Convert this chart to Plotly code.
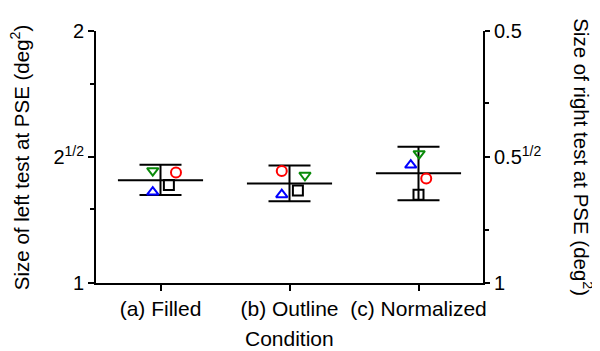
import plotly.graph_objects as go

conditions = ["(a) Filled", "(b) Outline", "(c) Normalized"]
cond_pos = [1, 2, 3]

mean_vals = [1.327, 1.315, 1.352]
err_upper = [1.384, 1.382, 1.455]
err_lower = [1.274, 1.252, 1.256]

red_circle = [1.355, 1.361, 1.333]
green_tri = [1.362, 1.345, 1.427]
blue_tri = [1.284, 1.275, 1.383]
black_sq = [1.309, 1.290, 1.275]

red_off = [0.12, -0.06, 0.06]
green_off = [-0.06, 0.12, 0.005]
blue_off = [-0.06, -0.06, -0.06]
sq_off = [0.065, 0.065, 0.0]

left_ticks = [1, 2 ** 0.5, 2]
left_ticktext = ["1", "2<sup>1/2</sup>", "2"]
left_minor = [1.227, 1.73]
right_ticks = [0.5, 0.5 ** 0.5, 1]
right_ticktext = ["0.5", "0.5<sup>1/2</sup>", "1"]
right_minor = [0.61, 0.865]

FONT = "Liberation Sans, Arial, sans-serif"
fig = go.Figure()

# mean lines
mx, my = [], []
for c, m in zip(cond_pos, mean_vals):
    mx += [c - 0.33, c + 0.33, None]
    my += [m, m, None]
fig.add_trace(go.Scatter(x=mx, y=my, mode="lines", line=dict(color="black", width=2),
                         showlegend=False, hoverinfo="skip"))

# error bars
fig.add_trace(go.Scatter(
    x=cond_pos, y=mean_vals, mode="markers", marker=dict(size=1, color="rgba(0,0,0,0)"),
    error_y=dict(type="data", symmetric=False,
                 array=[u - m for u, m in zip(err_upper, mean_vals)],
                 arrayminus=[m - l for m, l in zip(mean_vals, err_lower)],
                 color="black", thickness=2, width=21),
    showlegend=False, hoverinfo="skip"))

def add_markers(vals, offs, symbol, color):
    fig.add_trace(go.Scatter(
        x=[c + o for c, o in zip(cond_pos, offs)], y=vals, mode="markers",
        marker=dict(symbol=symbol, size=10, color=color,
                    line=dict(color=color, width=2)),
        showlegend=False))

add_markers(red_circle, red_off, "circle-open", "#ff0000")
add_markers(green_tri, green_off, "triangle-down-open", "#0a8a0a")
add_markers(blue_tri, blue_off, "triangle-up-open", "#0000ff")
add_markers(black_sq, sq_off, "square-open", "black")

# dummy for right axis
fig.add_trace(go.Scatter(x=[2], y=[0.7], yaxis="y2", mode="markers",
                         marker=dict(color="rgba(0,0,0,0)", size=1),
                         showlegend=False, hoverinfo="skip"))

fig.update_layout(
    width=592, height=343,
    margin=dict(l=88, r=117, t=17, b=68),
    paper_bgcolor="white", plot_bgcolor="white",
    font=dict(family=FONT, size=20, color="black"),
    xaxis=dict(range=[0.5, 3.5], tickvals=cond_pos, ticktext=conditions,
               showline=True, linecolor="black", linewidth=2, ticks="outside",
               ticklen=6, tickwidth=2, tickcolor="black", showgrid=False, zeroline=False,
               tickfont=dict(size=21)),
    yaxis=dict(type="log", range=[0, 0.30103], tickvals=left_ticks, ticktext=left_ticktext,
               showline=True, linecolor="black", linewidth=2, ticks="outside",
               ticklen=6, tickwidth=2, tickcolor="black", showgrid=False, zeroline=False,
               minor=dict(tickmode="array", tickvals=left_minor, ticks="outside",
                          ticklen=4, tickwidth=2, tickcolor="black", showgrid=False),
               tickfont=dict(size=20)),
    yaxis2=dict(type="log", range=[0, -0.30103], overlaying="y", side="right",
                tickvals=right_ticks, ticktext=right_ticktext,
                showline=True, linecolor="black", linewidth=2, ticks="outside",
                ticklen=5, tickwidth=2, tickcolor="black", showgrid=False, zeroline=False,
                minor=dict(tickmode="array", tickvals=right_minor, ticks="outside",
                           ticklen=4, tickwidth=2, tickcolor="black", showgrid=False),
                tickfont=dict(size=20)),
    annotations=[
        dict(text="Size of left test at PSE (deg<sup>2</sup>)", xref="paper", yref="paper",
             x=-0.196, y=0.5, textangle=-90, showarrow=False, font=dict(size=20.5),
             xanchor="center", yanchor="middle"),
        dict(text="Size of right test at PSE (deg<sup>2</sup>)", xref="paper", yref="paper",
             x=1.258, y=0.5, textangle=90, showarrow=False, font=dict(size=20.5),
             xanchor="center", yanchor="middle"),
        dict(text="Condition", xref="paper", yref="paper", x=0.5, y=-0.221,
             showarrow=False, font=dict(size=21), xanchor="center", yanchor="middle"),
    ],
)

fig.write_html("out.html")
